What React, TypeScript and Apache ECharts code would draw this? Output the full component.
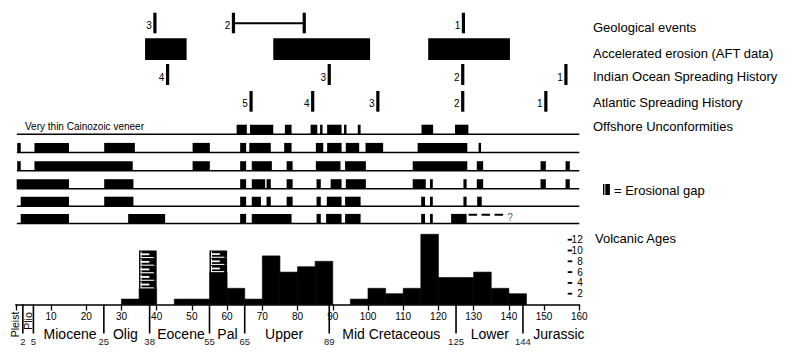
import React, { useEffect, useRef } from 'react';
import * as echarts from 'echarts';

const FONT = '"Liberation Sans", Arial, Helvetica, sans-serif';

// ---------------- DATA ----------------
// Volcanic ages histogram (5 My bins)
const volcBinStart = [30, 35, 45, 50, 55, 60, 65, 70, 75, 80, 85, 95, 100, 105, 110, 115, 120, 125, 130, 135, 140];
const volcCounts = [1, 3, 1, 1, 6, 3, 1, 9, 6, 7, 8, 1, 3, 2, 3, 13, 5, 5, 6, 3, 2];
const volcBinWidth = 5;
// hatched (uncertain) stacks
const hatchBinStart = [35, 55];
const hatchBase = [3, 6];
const hatchTop = [10, 10];
const yTickValues = [2, 4, 6, 8, 10, 12];

// Time scale
const boundaryAges = [2, 5, 25, 38, 55, 65, 89, 125, 144];
const eraNames = ['Miocene', 'Olig', 'Eocene', 'Pal', 'Upper', 'Mid Cretaceous', 'Lower', 'Jurassic'];
const eraCenters = [15.4, 31.1, 46.9, 60.1, 76.2, 106.6, 134.6, 154.2];
const smallEraNames = ['Pleist', 'Plio'];
const smallEraCenters = [-0.2, 3.55];

// Geological events
const geoEventLabels = ['3', '2', '1'];
const geoEventStart = [39.5, 61.8, 127.1];
const geoEventEnd: (number | null)[] = [null, 81.9, null];

// Accelerated erosion (AFT)
const aftStart = [36.7, 73.1, 117.1];
const aftEnd = [48.5, 100.6, 140.3];

// Indian Ocean spreading
const indianLabels = ['4', '3', '2', '1'];
const indianAges = [43.1, 89.0, 126.9, 156.2];

// Atlantic spreading
const atlanticLabels = ['5', '4', '3', '2', '1'];
const atlanticAges = [66.8, 84.3, 102.8, 126.9, 150.5];

// Offshore unconformities (erosional gaps) [start, end]
const offshoreRow1 = [[62.7, 65.6], [66.5, 73.1], [76.4, 78.3], [83.7, 85.6], [86.4, 87.1], [88.4, 92.5], [93.2, 93.9], [97.1, 97.9], [115.2, 118.5], [124.7, 128.5]];
const offshoreRow2 = [[0.4, 1.4], [5.3, 15.1], [25.1, 33.8], [50.2, 55.1], [63.7, 65.4], [66.3, 72.4], [76.2, 78.3], [85.2, 87.3], [88.4, 92.5], [93.7, 97.5], [99.3, 104.3], [114.1, 128.2], [131.4, 132.1]];
const offshoreRow3 = [[0.4, 1.4], [5.3, 33.2], [50.2, 55.1], [63.7, 65.4], [67, 72.7], [76.9, 78.6], [85.2, 92.2], [93.5, 99.4], [112.7, 128.2], [130.9, 132.7], [149, 150.5], [156.1, 157.3]];
const offshoreRow4 = [[0.25, 15.1], [25.1, 33.4], [63.7, 65.4], [67, 70.8], [71.2, 72.4], [76.9, 78.6], [85.4, 86.6], [89.4, 92.5], [93.7, 99.4], [112.7, 116.4], [117.6, 118.4], [127.1, 128], [130.9, 132.7], [149, 150.5], [156.1, 157.3]];
const offshoreRow5 = [[1.4, 15.1], [25.1, 33.4], [63.7, 65.4], [67, 69.6], [71.2, 72.4], [76.9, 78.6], [85.4, 86.6], [88.3, 92.5], [93.5, 97.9], [115.1, 116.2], [117.6, 118.4], [127.1, 128], [131, 132.3]];
const offshoreRow6 = [[1.4, 15.1], [31.9, 42.4], [63.7, 65.4], [67, 78.3], [85.4, 86.6], [88.1, 92.5], [93.5, 97.9], [115.1, 116.2], [117.6, 118.4], [123.6, 128]];
const offshoreRows = [offshoreRow1, offshoreRow2, offshoreRow3, offshoreRow4, offshoreRow5, offshoreRow6];
const offshoreUncertain = [128, 138.4]; // row 6, dashed "?"
const offshoreLineRange = [0.3, 160];

const laneNames = ['Geological events', 'Accelerated erosion (AFT data)', 'Indian Ocean Spreading History', 'Atlantic Spreading History', 'Offshore Unconformities'];

// ---------------- LAYOUT ----------------
const GRID_LEFT = 15.8;
const GRID_RIGHT = 800 - 579.3;
const TOP_H = 229;
const HIST_ZERO = 304.5;
const HIST_UNIT = 5.4;
const HIST_MAX = 14;
const Y_AXIS_INSET = 11.6;
const LANES: Record<string, [number, number]> = {
  geo: [12.7, 33.3],
  aft: [38.3, 60],
  indian: [64, 85],
  atlantic: [91, 111.7],
};
const GEO_RANGE_Y = 23.3;
const ROW_Y = [134.3, 152.5, 170.8, 188.8, 206.3, 223.5];
const BLOCK_H = 9.6;
const LANE_LABEL_Y = [27, 53, 76, 102, 126];

// build items
type TickItem = { age: number; lane: string; text: string };
const tickItems: TickItem[] = [];
geoEventStart.forEach((a, i) => {
  tickItems.push({ age: a, lane: 'geo', text: geoEventLabels[i] });
  const e = geoEventEnd[i];
  if (e != null) tickItems.push({ age: e, lane: 'geo', text: '' });
});
indianAges.forEach((a, i) => tickItems.push({ age: a, lane: 'indian', text: indianLabels[i] }));
atlanticAges.forEach((a, i) => tickItems.push({ age: a, lane: 'atlantic', text: atlanticLabels[i] }));

const geoRanges: number[][] = [];
geoEventStart.forEach((a, i) => {
  const e = geoEventEnd[i];
  if (e != null) geoRanges.push([a, e]);
});

const blockItems: number[][] = [];
offshoreRows.forEach((row, r) => row.forEach(([s, e]) => blockItems.push([s, e, r])));

function buildOption(): any {
  const textStyle = (extra: any) => ({ fontFamily: FONT, fill: '#000', ...extra });
  return {
    animation: false,
    backgroundColor: '#fff',
    grid: [
      { left: GRID_LEFT, right: GRID_RIGHT, top: 0, height: TOP_H, outerBoundsMode: 'none' },
      { left: GRID_LEFT, right: GRID_RIGHT, top: HIST_ZERO - HIST_MAX * HIST_UNIT, height: HIST_MAX * HIST_UNIT, outerBoundsMode: 'none' },
    ],
    xAxis: [
      { gridIndex: 0, type: 'value', min: 0, max: 160, show: false },
      {
        gridIndex: 1, type: 'value', min: 0, max: 160, interval: 10,
        axisLine: { lineStyle: { color: '#000', width: 1.6 } },
        axisTick: { length: 6, lineStyle: { color: '#000', width: 1.3 } },
        axisLabel: { margin: 7, fontSize: 10, color: '#000', fontFamily: FONT, formatter: (v: number) => (v === 0 ? '' : String(v)) },
        splitLine: { show: false },
      },
    ],
    yAxis: [
      { gridIndex: 0, type: 'value', min: 0, max: TOP_H, inverse: true, show: false },
      {
        gridIndex: 1, type: 'value', position: 'right', offset: -Y_AXIS_INSET, min: 0, max: HIST_MAX,
        axisLine: { show: false },
        axisTick: { show: false },
        axisLabel: { customValues: yTickValues, margin: 15, align: 'right', fontSize: 10, color: '#000', fontFamily: FONT },
        splitLine: { show: false },
      },
    ],
    series: [
      // lane ticks
      {
        type: 'custom', xAxisIndex: 0, yAxisIndex: 0, clip: false,
        data: tickItems.map((t) => [t.age, 0]),
        renderItem: (params: any, api: any) => {
          const t = tickItems[params.dataIndex];
          const [y0, y1] = LANES[t.lane];
          const a = api.coord([api.value(0), y0]);
          const b = api.coord([api.value(0), y1]);
          const children: any[] = [
            { type: 'rect', shape: { x: a[0] - 1.6, y: a[1], width: 3.2, height: b[1] - a[1] }, style: { fill: '#000' } },
          ];
          if (t.text) {
            children.push({ type: 'text', x: a[0] - 3.2, y: b[1] - 8, style: textStyle({ text: t.text, fontSize: 10, align: 'right', verticalAlign: 'middle' }) });
          }
          return { type: 'group', children };
        },
      },
      // geological range
      {
        type: 'custom', xAxisIndex: 0, yAxisIndex: 0, clip: false,
        data: geoRanges,
        renderItem: (params: any, api: any) => {
          const a = api.coord([api.value(0), GEO_RANGE_Y]);
          const b = api.coord([api.value(1), GEO_RANGE_Y]);
          return { type: 'line', shape: { x1: a[0], y1: a[1], x2: b[0], y2: b[1] }, style: { stroke: '#000', lineWidth: 2 } };
        },
      },
      // AFT erosion bars
      {
        type: 'custom', xAxisIndex: 0, yAxisIndex: 0, clip: false,
        data: aftStart.map((s, i) => [s, aftEnd[i]]),
        renderItem: (params: any, api: any) => {
          const a = api.coord([api.value(0), LANES.aft[0]]);
          const b = api.coord([api.value(1), LANES.aft[1]]);
          return { type: 'rect', shape: { x: a[0], y: a[1], width: b[0] - a[0], height: b[1] - a[1] }, style: { fill: '#000' } };
        },
      },
      // offshore row lines
      {
        type: 'custom', xAxisIndex: 0, yAxisIndex: 0, clip: false,
        data: ROW_Y.map((_, r) => [offshoreLineRange[0], offshoreLineRange[1], r]),
        renderItem: (params: any, api: any) => {
          const y = ROW_Y[api.value(2)];
          const a = api.coord([api.value(0), y]);
          const b = api.coord([api.value(1), y]);
          return { type: 'line', shape: { x1: a[0], y1: a[1], x2: b[0], y2: b[1] }, style: { stroke: '#000', lineWidth: 1.5 } };
        },
      },
      // offshore blocks
      {
        type: 'custom', xAxisIndex: 0, yAxisIndex: 0, clip: false,
        data: blockItems,
        renderItem: (params: any, api: any) => {
          const y = ROW_Y[api.value(2)];
          const a = api.coord([api.value(0), y - BLOCK_H]);
          const b = api.coord([api.value(1), y]);
          return { type: 'rect', shape: { x: a[0], y: a[1], width: b[0] - a[0], height: b[1] - a[1] }, style: { fill: '#000' } };
        },
      },
      // uncertain extension
      {
        type: 'custom', xAxisIndex: 0, yAxisIndex: 0, clip: false,
        data: [[offshoreUncertain[0], offshoreUncertain[1], 5]],
        renderItem: (params: any, api: any) => {
          const y = ROW_Y[api.value(2)] - BLOCK_H + 0.8;
          const a = api.coord([api.value(0), y]);
          const b = api.coord([api.value(1), y]);
          return {
            type: 'group',
            children: [
              { type: 'line', shape: { x1: a[0] + 2, y1: a[1], x2: b[0], y2: b[1] }, style: { stroke: '#000', lineWidth: 2, lineDash: [8.5, 4.5] } },
              { type: 'text', x: b[0] + 4, y: b[1] + 3, style: textStyle({ text: '?', fontSize: 10, fill: '#555', verticalAlign: 'middle' }) },
            ],
          };
        },
      },
      // histogram
      {
        type: 'custom', xAxisIndex: 1, yAxisIndex: 1, clip: false,
        data: volcBinStart.map((s, i) => [s, volcCounts[i]]),
        renderItem: (params: any, api: any) => {
          const s = api.value(0);
          const a = api.coord([s, api.value(1)]);
          const b = api.coord([s + volcBinWidth, 0]);
          return { type: 'rect', shape: { x: a[0], y: a[1], width: b[0] - a[0], height: b[1] - a[1] }, style: { fill: '#000', stroke: '#000', lineWidth: 0.6 } };
        },
      },
      // hatched stacks
      {
        type: 'custom', xAxisIndex: 1, yAxisIndex: 1, clip: false,
        data: hatchBinStart.map((s, i) => [s, hatchBase[i], hatchTop[i]]),
        renderItem: (params: any, api: any) => {
          const s = api.value(0);
          const base = api.value(1);
          const top = api.value(2);
          const n = Math.max(1, Math.round((top - base) / 1.4));
          const h = (top - base) / n;
          const children: any[] = [];
          for (let k = 0; k < n; k++) {
            const lo = api.coord([s, base + k * h]);
            const hi = api.coord([s + volcBinWidth, base + (k + 1) * h]);
            const x0 = lo[0], x1 = hi[0], yb = lo[1], yt = hi[1];
            const w = x1 - x0, bh = yb - yt;
            children.push({ type: 'rect', shape: { x: x0, y: yt, width: w, height: bh }, style: { fill: '#000' } });
            children.push({ type: 'rect', shape: { x: x0 + 1.5, y: yt + bh * 0.38, width: w * 0.5, height: bh * 0.24 }, style: { fill: '#fff' } });
            children.push({ type: 'rect', shape: { x: x0 + 1.5, y: yb - 1, width: w * 0.75, height: 1 }, style: { fill: '#fff' } });
            children.push({ type: 'rect', shape: { x: x0 + 1.5, y: yt + 1, width: 1, height: bh - 1 }, style: { fill: '#fff' } });
          }
          return { type: 'group', children };
        },
      },
      // right axis ticks
      {
        type: 'custom', xAxisIndex: 1, yAxisIndex: 1, clip: false,
        data: yTickValues.map((v) => [160, v]),
        renderItem: (params: any, api: any) => {
          const p = api.coord([api.value(0), api.value(1)]);
          const x = p[0] - Y_AXIS_INSET;
          return { type: 'line', shape: { x1: x, y1: p[1], x2: x + 4.5, y2: p[1] }, style: { stroke: '#000', lineWidth: 1.8 } };
        },
      },
      // epoch boundaries
      {
        type: 'custom', xAxisIndex: 1, yAxisIndex: 1, clip: false,
        data: boundaryAges.map((a) => [a, 0]),
        renderItem: (params: any, api: any) => {
          const p = api.coord([api.value(0), 0]);
          return {
            type: 'group',
            children: [
              { type: 'line', shape: { x1: p[0], y1: p[1], x2: p[0], y2: p[1] + 29 }, style: { stroke: '#000', lineWidth: 1.6 } },
              { type: 'text', x: p[0], y: p[1] + 37, style: textStyle({ text: String(api.value(0)), fontSize: 9.5, fill: '#222', align: 'center', verticalAlign: 'middle' }) },
            ],
          };
        },
      },
      // era labels
      {
        type: 'custom', xAxisIndex: 1, yAxisIndex: 1, clip: false,
        data: eraCenters.map((c) => [c, 0]),
        renderItem: (params: any, api: any) => {
          const p = api.coord([api.value(0), 0]);
          return { type: 'text', x: p[0], y: p[1] + 29, style: textStyle({ text: eraNames[params.dataIndex], fontSize: 14, align: 'center', verticalAlign: 'middle' }) };
        },
      },
      // small rotated era labels
      {
        type: 'custom', xAxisIndex: 1, yAxisIndex: 1, clip: false,
        data: smallEraCenters.map((c) => [c, 0]),
        renderItem: (params: any, api: any) => {
          const p = api.coord([api.value(0), 0]);
          const dy = params.dataIndex === 0 ? 20 : 16.5;
          return { type: 'text', x: p[0], y: p[1] + dy, rotation: Math.PI / 2, style: textStyle({ text: smallEraNames[params.dataIndex], fontSize: 10.5, align: 'center', verticalAlign: 'middle' }) };
        },
      },
    ],
    graphic: [
      ...laneNames.map((t, i) => ({ type: 'text', x: 593, y: LANE_LABEL_Y[i], style: textStyle({ text: t, fontSize: 13, verticalAlign: 'middle' }) })),
      { type: 'text', x: 595, y: 238, style: textStyle({ text: 'Volcanic Ages', fontSize: 13, verticalAlign: 'middle' }) },
      { type: 'text', x: 25, y: 126.7, style: textStyle({ text: 'Very thin Cainozoic veneer', fontSize: 10, verticalAlign: 'middle' }) },
      { type: 'rect', shape: { x: 603, y: 184, width: 1.4, height: 11 }, style: { fill: '#000' } },
      { type: 'rect', shape: { x: 605.3, y: 184, width: 4.6, height: 11 }, style: { fill: '#000' } },
      { type: 'text', x: 614, y: 190, style: textStyle({ text: '= Erosional gap', fontSize: 13, verticalAlign: 'middle' }) },
    ],
  };
}

export default function App() {
  const ref = useRef<HTMLDivElement>(null);
  useEffect(() => {
    const chart = echarts.init(ref.current!, null, { renderer: 'svg' });
    chart.setOption(buildOption());
    return () => chart.dispose();
  }, []);
  return <div ref={ref} style={{ position: 'fixed', left: 0, top: 0, width: 800, height: 358, background: '#fff' }} />;
}
